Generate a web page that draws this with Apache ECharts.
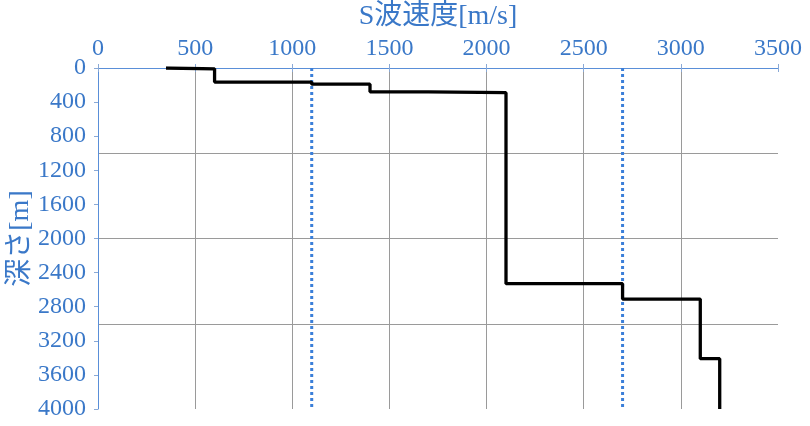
<!DOCTYPE html>
<html>
<head>
<meta charset="utf-8">
<script src="https://cdn.jsdelivr.net/npm/echarts@6/dist/echarts.min.js"></script>
<style>html,body{margin:0;padding:0;background:#fff}#c{width:810px;height:426px}</style>
</head>
<body>
<div id="c"></div>
<script>
// S-wave velocity of each layer [m/s]
const layerVelocity = [350, 600, 1100, 1400, 1700, 2100, 2700, 3100, 3200];
// top depth of each layer [m]
const layerTop = [0, 10, 165, 190, 280, 290, 2530, 2710, 3410];
const maxDepth = 4000;
// reference (dotted) velocities [m/s]
const refVelocity = [1100, 2700];
const xTicks = [0, 500, 1000, 1500, 2000, 2500, 3000, 3500];
const yTicks = [0, 400, 800, 1200, 1600, 2000, 2400, 2800, 3200, 3600, 4000];

const profile = [];
for (let i = 0; i < layerVelocity.length; i++) {
  const bottom = i + 1 < layerTop.length ? layerTop[i + 1] : maxDepth;
  profile.push([layerVelocity[i], layerTop[i]]);
  profile.push([layerVelocity[i], bottom]);
}

const blue = '#3a78c8';
const axisBlue = '#5a8fd8';
const font = '"Liberation Serif", "Noto Sans CJK JP", serif';
const plain = v => String(v);

const gridColors = xTicks.map((v, i) => (i === 0 || i === xTicks.length - 1) ? 'rgba(0,0,0,0)' : '#9a9a9a');

const chart = echarts.init(document.getElementById('c'), null, {renderer: 'canvas'});
chart.setOption({
  animation: false,
  backgroundColor: '#fff',
  grid: {left: 98, right: 32, top: 68, bottom: 17, containLabel: false, outerBoundsMode: 'none'},
  xAxis: [{
    type: 'value', position: 'top', min: xTicks[0], max: xTicks[xTicks.length - 1], interval: 500,
    name: 'S波速度[m/s]', nameLocation: 'middle', nameGap: 37, nameMoveOverlap: false,
    nameTextStyle: {color: blue, fontFamily: font, fontSize: 28},
    axisLine: {show: true, lineStyle: {color: axisBlue, width: 1}},
    axisTick: {show: true, length: 4, lineStyle: {color: '#8aa9d6'}},
    axisLabel: {color: blue, fontFamily: font, fontSize: 24, margin: 7, formatter: plain},
    splitLine: {show: true, lineStyle: {color: gridColors, width: 1}}
  }, {
    type: 'value', position: 'bottom', min: xTicks[0], max: xTicks[xTicks.length - 1], interval: 500,
    axisLine: {show: true, lineStyle: {color: axisBlue, width: 1}},
    axisTick: {show: true, length: 4, lineStyle: {color: '#8aa9d6'}},
    axisLabel: {show: false}, splitLine: {show: false}
  }],
  yAxis: [{
    type: 'value', inverse: true, min: 0, max: maxDepth, interval: 400,
    name: '深さ[m]', nameLocation: 'middle', nameGap: 63, nameRotate: 90, nameMoveOverlap: false,
    nameTextStyle: {color: blue, fontFamily: font, fontSize: 28},
    axisLine: {show: true, lineStyle: {color: axisBlue, width: 1}},
    axisTick: {show: true, length: 4, lineStyle: {color: '#8aa9d6'}},
    axisLabel: {color: blue, fontFamily: font, fontSize: 24, margin: 12, formatter: plain},
    splitLine: {show: false}
  }, {
    type: 'value', inverse: true, min: 0, max: maxDepth, interval: 1000, position: 'left',
    axisLine: {show: false}, axisTick: {show: false}, axisLabel: {show: false},
    splitLine: {show: true, lineStyle: {color: ['rgba(0,0,0,0)', '#9a9a9a', '#9a9a9a', '#9a9a9a', 'rgba(0,0,0,0)'], width: 1}}
  }],
  series: [
    ...refVelocity.map(v => ({
      type: 'line', xAxisIndex: 0, yAxisIndex: 0, symbol: 'none', silent: true,
      data: [[v, 0], [v, maxDepth]],
      lineStyle: {color: '#3b7fd9', width: 3, type: [3, 3]},
      z: 3
    })),
    {
      type: 'line', xAxisIndex: 0, yAxisIndex: 0, symbol: 'none',
      data: profile,
      lineStyle: {color: '#000', width: 3.3},
      z: 4
    }
  ]
});
</script>
</body>
</html>
